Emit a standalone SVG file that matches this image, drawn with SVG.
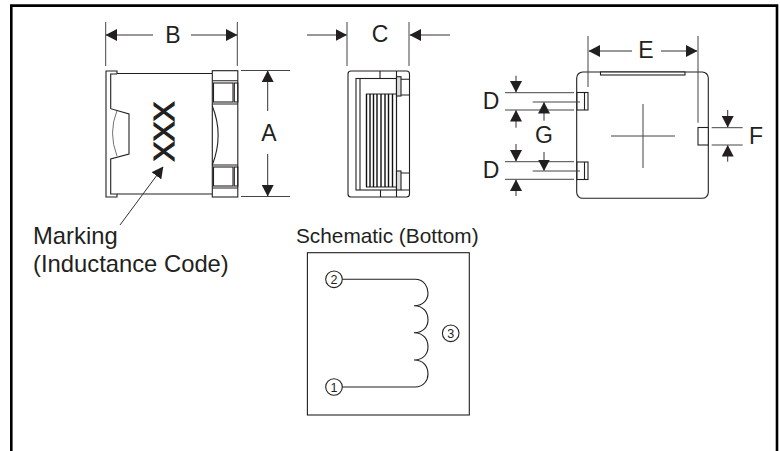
<svg xmlns="http://www.w3.org/2000/svg" width="780" height="451" viewBox="0 0 780 451">
<style>
text{font-family:"Liberation Sans",Arial,sans-serif;fill:#231f20}
.l{font-size:23px;text-anchor:middle}
.s{fill:none;stroke:#231f20;stroke-width:1.1}
.f{fill:#fff;stroke:#231f20;stroke-width:1.1}
.g{fill:none;stroke:#231f20;stroke-width:.8;stroke-opacity:.8}
.d{fill:none;stroke:#333;stroke-width:1;marker-end:url(#a)}
.e{fill:none;stroke:#444;stroke-width:1}
.n{font-size:12.500px;text-anchor:middle}
.c{fill:none;stroke:#111;stroke-width:1.400}
</style>
<defs>
<marker id="a" markerUnits="userSpaceOnUse" markerWidth="12" markerHeight="12" refX="11" refY="6" orient="auto"><path d="M0 0L11.500 6L0 12Z" fill="#231f20"/></marker>
</defs>
<rect width="780" height="451" fill="#fff"/>
<path id="frame" d="M11.300 451V5.600H778.300M777 5.600V451" fill="none" stroke="#000" stroke-width="2.600"/>

<g id="front-view">
<path class="s" d="M117 74V71H106V197H117V194H110.700V159L129 154V114L110.700 108.700V74H117"/>
<path class="s" d="M117 73.500H212M117 194H212"/>
<path class="g" d="M117 110.500Q108 133 117 156"/>
<rect class="f" x="212.300" y="70.700" width="25.500" height="126.300"/>
<path class="s" d="M212.300 80.700H237.800M212.300 104H237.800M212.300 165H237.800M212.300 188H237.800"/>
<rect class="s" x="213.500" y="83" width="19.500" height="19"/>
<rect class="s" x="213.500" y="167" width="19.500" height="19"/>
<rect class="s" x="234.300" y="83" width="3.500" height="19"/>
<rect class="s" x="234.300" y="167" width="3.500" height="19"/>
<path class="s" d="M212.300 106Q224 135 212.300 165"/>
<text transform="translate(174.300 131.500) rotate(-90)" font-size="30" text-anchor="middle" stroke="#231f20" stroke-width="1.100" style="fill:#231f20">XXX</text>
</g>

<g id="side-view">
<rect class="s" x="348" y="71" width="61.500" height="126" rx="3"/>
<path class="s" d="M380 71V78.500M380.500 190V197M396.500 71V197"/>
<rect class="s" x="356" y="78.500" width="40.500" height="111.500"/>
<path class="s" d="M360 78.500V190"/>
<path class="s" d="M366 94H396M366 187H396"/>
<path class="c" d="M366.500 94V187M370 94V187M373.500 94V187M377 94V187M381 94V187M385 94V187M388.500 94V187M392.500 94V187"/>
<rect x="396.500" y="76.700" width="4.500" height="19.300" fill="#ddd" stroke="#231f20" stroke-width="1.100"/>
<rect x="396.500" y="171" width="4.500" height="19" fill="#ddd" stroke="#231f20" stroke-width="1.100"/>
<path class="s" d="M401 79.300H409.500M401 95H409.500M401 173H409.500M401 190H409.500"/>
</g>

<g id="top-view">
<rect class="s" x="576.700" y="72" width="131.600" height="126.300" rx="6"/>
<rect class="f" x="600.500" y="72" width="84.500" height="3"/>
<path class="e" d="M611 136H675M643 104V168"/>
<rect class="f" x="577" y="92.500" width="11" height="17.500"/>
<rect class="f" x="577" y="162" width="11" height="17.500"/>
<path class="s" d="M584.500 92.500V110M584.500 162V179.500"/>
<rect class="f" x="698" y="127.500" width="10.300" height="17.500"/>
</g>

<g id="schematic">
<rect class="s" x="307.400" y="252.700" width="161.900" height="162.300"/>
<circle class="s" cx="334" cy="279.300" r="8.300"/>
<circle class="s" cx="334" cy="387" r="8.300"/>
<circle class="s" cx="450.700" cy="333.300" r="8.300"/>
<text class="n" x="334" y="283.800">2</text>
<text class="n" x="334" y="391.500">1</text>
<text class="n" x="450.700" y="337.800">3</text>
<path class="s" d="M342.300 279.300H415C425 279.300 428 288 428 293C428 299 424 305.700 414 305.700C424 305.700 428 313 428 320C428 326 424 332.700 414 332.700C424 332.700 428 340 428 347C428 353 424 360 414 360C424 360 428 367 428 374C428 380 424 387 415 387H342.300" stroke-width="1.200"/>
</g>

<g id="connectors">
<path class="e" d="M105.700 22V66M237.300 22V66M347 22V66M409 22V66M588 36V87M698 36V122.700"/>
<path class="d" d="M153 35H106"/><path class="d" d="M191 35H237"/>
<path class="e" d="M241 70.500H290M241 196.500H290"/>
<path class="d" d="M267.700 111V71"/><path class="d" d="M267.700 154V196"/>
<path class="d" d="M307 35H346.500"/><path class="d" d="M450 35H410"/>
<path class="d" d="M632 51H589"/><path class="d" d="M661 51H697"/>
<path class="e" d="M505 92.700H574M505 110H574M505 161.700H574M505 179.300H574M532.700 102H580M532.700 171H580M711.700 127.700H742.700M711.700 145H742.700"/>
<path class="d" d="M516 75.700V92"/><path class="d" d="M516 127.700V110.500"/>
<path class="d" d="M516 144V161"/><path class="d" d="M516 196V180"/>
<path class="d" d="M544 120.700V102.500"/><path class="d" d="M544 152V170.500"/>
<path class="d" d="M727.700 110V127"/><path class="d" d="M727.700 161.700V145.500"/>
<path class="d" d="M120 225L163 167"/>
</g>

<g id="labels">
<text class="l" x="173" y="42.500">B</text>
<text class="l" x="269" y="141">A</text>
<text class="l" x="380" y="42">C</text>
<text class="l" x="646" y="58">E</text>
<text class="l" x="491" y="108.500">D</text>
<text class="l" x="491" y="177.700">D</text>
<text class="l" x="544" y="143">G</text>
<text class="l" x="756" y="144">F</text>
<text font-size="23.800" x="33" y="244">Marking</text>
<text font-size="23.800" x="33" y="272">(Inductance Code)</text>
<text font-size="20.800" x="296" y="243">Schematic (Bottom)</text>
</g>
</svg>
